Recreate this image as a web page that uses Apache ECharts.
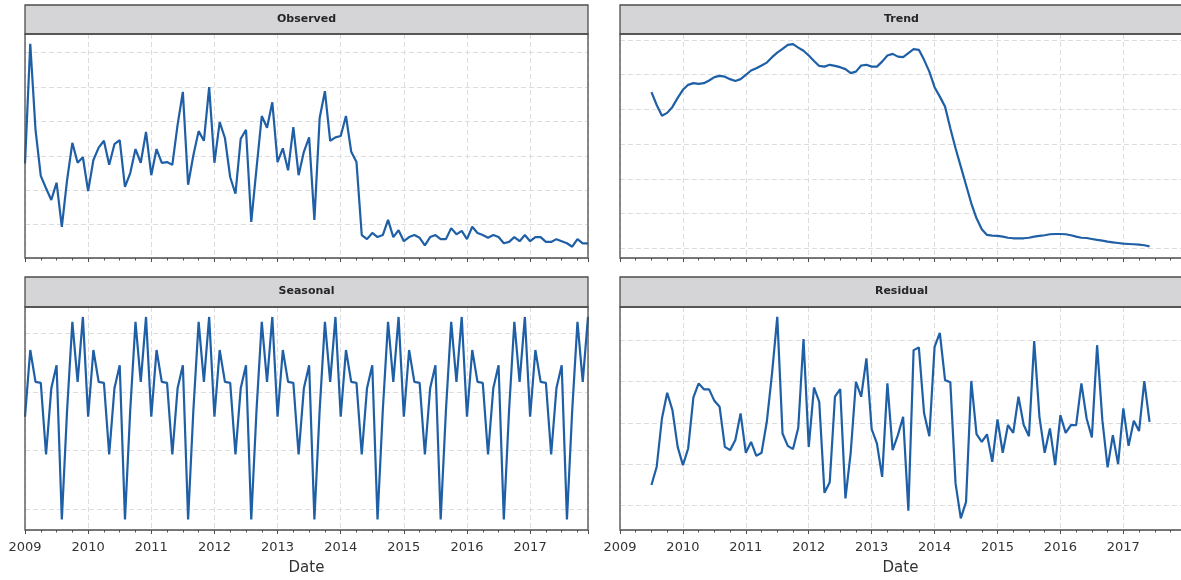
<!DOCTYPE html>
<html>
<head>
<meta charset="utf-8">
<script src="https://cdn.jsdelivr.net/npm/echarts@6/dist/echarts.min.js"></script>
<style>
html,body{margin:0;padding:0;background:#ffffff;}
#chart{width:1181px;height:580px;}
</style>
</head>
<body>
<div id="chart"></div>
<script>
// ---------------- data ----------------
const panelTitles = ['Observed', 'Trend', 'Seasonal', 'Residual'];
const xAxisName = 'Date';
const yearLabels = [2009, 2010, 2011, 2012, 2013, 2014, 2015, 2016, 2017];

// monthly, 2009-01 .. 2017-12
const observed = [
  139, 313, 188, 121, 103, 86, 111, 47, 115, 169, 140, 148,
  99, 144, 162, 172, 137, 167, 173, 105, 125, 160, 140, 185,
  122, 160, 140, 141, 137, 195, 243, 108, 151, 186, 172, 250,
  140, 199, 176, 119, 95, 175, 188, 54, 132, 208, 191, 228,
  141, 161, 129, 192, 122, 156, 177, 57, 205, 244, 172, 177,
  179, 208, 156, 141, 35, 29, 38, 32, 35, 57, 32, 42,
  26, 32, 35, 31, 20, 32, 35, 29, 29, 45, 36, 41,
  29, 47, 38, 35, 31, 35, 32, 23, 25, 32, 26, 35,
  26, 32, 32, 25, 25, 29, 26, 23, 18, 29, 23, 23
];

// monthly, 2009-07 .. 2017-06
const trend = [
  137.4, 128.2, 120.5, 122.5, 126.8, 133.3,
  139.1, 142.7, 143.9, 143.4, 143.9, 145.8, 148.2, 149.1, 148.6, 146.8, 145.5, 146.8,
  149.9, 153.0, 154.7, 156.6, 158.7, 162.6, 165.9, 168.6, 171.5, 172.0, 169.5, 167.2,
  163.8, 159.9, 156.3, 155.8, 157.1, 156.3, 155.4, 154.0, 151.1, 152.2, 156.6, 157.1,
  155.8, 155.8, 159.4, 163.8, 165.0, 163.0, 162.6, 165.5, 168.4, 167.9, 160.7, 152.2,
  141.0, 134.2, 127.0, 111.5, 97.0, 83.8, 70.6, 57.4, 46.6, 38.7, 34.6, 34.1,
  33.9, 33.4, 32.6, 32.2, 32.2, 32.2, 32.6, 33.4, 33.9, 34.4, 35.1, 35.3,
  35.3, 35.1, 34.4, 33.4, 32.6, 32.4, 31.7, 31.0, 30.5, 29.8, 29.3, 28.8,
  28.3, 28.1, 27.9, 27.6, 27.2, 26.4
];

// monthly, 2009-01 .. 2017-12
const seasonal = [
  0.915, 1.143, 1.034, 1.031, 0.786, 1.012, 1.091, 0.564, 0.937, 1.239, 1.034, 1.256,
  0.915, 1.143, 1.034, 1.031, 0.786, 1.012, 1.091, 0.564, 0.937, 1.239, 1.034, 1.256,
  0.915, 1.143, 1.034, 1.031, 0.786, 1.012, 1.091, 0.564, 0.937, 1.239, 1.034, 1.256,
  0.915, 1.143, 1.034, 1.031, 0.786, 1.012, 1.091, 0.564, 0.937, 1.239, 1.034, 1.256,
  0.915, 1.143, 1.034, 1.031, 0.786, 1.012, 1.091, 0.564, 0.937, 1.239, 1.034, 1.256,
  0.915, 1.143, 1.034, 1.031, 0.786, 1.012, 1.091, 0.564, 0.937, 1.239, 1.034, 1.256,
  0.915, 1.143, 1.034, 1.031, 0.786, 1.012, 1.091, 0.564, 0.937, 1.239, 1.034, 1.256,
  0.915, 1.143, 1.034, 1.031, 0.786, 1.012, 1.091, 0.564, 0.937, 1.239, 1.034, 1.256,
  0.915, 1.143, 1.034, 1.031, 0.786, 1.012, 1.091, 0.564, 0.937, 1.239, 1.034, 1.256
];

// monthly, 2009-07 .. 2017-06
const residual = [
  0.697, 0.786, 1.021, 1.146, 1.062, 0.883,
  0.794, 0.875, 1.124, 1.192, 1.163, 1.163, 1.107, 1.078, 0.883, 0.867, 0.916, 1.046,
  0.854, 0.907, 0.839, 0.854, 1.005, 1.241, 1.516, 0.948, 0.888, 0.872, 0.976, 1.408,
  0.883, 1.172, 1.102, 0.659, 0.710, 1.127, 1.164, 0.632, 0.854, 1.200, 1.127, 1.314,
  0.969, 0.900, 0.737, 1.192, 0.867, 0.940, 1.029, 0.572, 1.354, 1.367, 1.046, 0.935,
  1.370, 1.438, 1.208, 1.198, 0.705, 0.535, 0.615, 1.204, 0.945, 0.907, 0.944, 0.810,
  1.017, 0.854, 0.989, 0.951, 1.127, 0.989, 0.935, 1.398, 1.029, 0.854, 0.973, 0.794,
  1.037, 0.951, 0.989, 0.989, 1.192, 1.021, 0.929, 1.378, 1.013, 0.783, 0.940, 0.799,
  1.070, 0.888, 1.010, 0.960, 1.203, 1.005
];

// ---------------- helpers ----------------
function monthSeq(startY, startM, n) {
  const out = [];
  for (let i = 0; i < n; i++) {
    const t = startY * 12 + (startM - 1) + i;
    const y = Math.floor(t / 12), m = t % 12 + 1;
    out.push(y + '-' + (m < 10 ? '0' : '') + m);
  }
  return out;
}
function toYear(s) {
  const p = s.split('-');
  return Number(p[0]) + (Number(p[1]) - 1) / 12;
}
const datesFull = monthSeq(2009, 1, observed.length);
const datesComp = monthSeq(2009, 7, trend.length);
function pairs(dates, vals) { return dates.map((d, i) => [toYear(d), vals[i]]); }

const seriesData = [
  pairs(datesFull, observed),
  pairs(datesComp, trend),
  pairs(datesFull, seasonal),
  pairs(datesComp, residual)
];

// ---------------- layout & style ----------------
const layout = [
  {left: 25,  top: 34,  width: 563, height: 224, headTop: 5,   headH: 29},
  {left: 620, top: 34,  width: 563, height: 224, headTop: 5,   headH: 29},
  {left: 25,  top: 307, width: 563, height: 223, headTop: 277, headH: 30},
  {left: 620, top: 307, width: 563, height: 223, headTop: 277, headH: 30}
];
const yScale = [
  {min: 1.6,   max: 327.2, step: 50},
  {min: 18.0,  max: 179.3, step: 25},
  {min: 0.528, max: 1.29,  step: 0.2},
  {min: 0.478, max: 1.564, step: 0.2}
];
const lineColor = '#1f5fa6';
const frameColor = '#4d4d4d';
const gridColor = '#dddddd';
const font = '"DejaVu Sans", "Liberation Sans", sans-serif';
const xMin = toYear(datesFull[0]);
const xMax = toYear(datesFull[datesFull.length - 1]);

const grids = [], xAxes = [], yAxes = [], series = [], graphics = [];
layout.forEach((L, k) => {
  grids.push({left: L.left, top: L.top, width: L.width, height: L.height, containLabel: false});
  const bottomRow = k >= 2;
  xAxes.push({
    type: 'value', gridIndex: k, min: xMin, max: xMax, interval: 1,
    axisLine: {show: false},
    axisTick: {show: true, length: 4, lineStyle: {color: frameColor, width: 1}},
    minorTick: {show: true, splitNumber: 4, length: 2.5, lineStyle: {color: frameColor, width: 1}},
    minorSplitLine: {show: false},
    axisLabel: {
      show: bottomRow, margin: 11, color: '#333333', fontSize: 13, fontFamily: font,
      showMaxLabel: false,
      formatter: v => (yearLabels.indexOf(Math.round(v * 1000) / 1000) >= 0 ? String(Math.round(v)) : '')
    },
    splitLine: {show: true, lineStyle: {color: gridColor, type: [5, 3], width: 1}},
    name: bottomRow ? xAxisName : '', nameLocation: 'middle', nameGap: 31,
    nameTextStyle: {color: '#333333', fontSize: 15, fontFamily: font}
  });
  const ys = yScale[k];
  yAxes.push({
    type: 'value', gridIndex: k, min: ys.min, max: ys.max,
    minInterval: ys.step, maxInterval: ys.step,
    axisLine: {show: false}, axisTick: {show: false}, axisLabel: {show: false},
    splitLine: {show: true, lineStyle: {color: gridColor, type: [5, 3], width: 1}}
  });
  series.push({
    type: 'line', xAxisIndex: k, yAxisIndex: k, data: seriesData[k],
    showSymbol: false, symbol: 'none', clip: true,
    lineStyle: {color: lineColor, width: 2.2}, z: 3
  });
  // header strip
  graphics.push({
    type: 'rect', silent: true, z: 50,
    shape: {x: L.left, y: L.headTop, width: L.width, height: L.headH},
    style: {fill: '#d5d5d8', stroke: frameColor, lineWidth: 1.3}
  });
  graphics.push({
    type: 'text', silent: true, z: 51,
    x: L.left + L.width / 2, y: L.headTop + L.headH / 2 - 0.5,
    style: {text: panelTitles[k], fill: '#262626', font: 'bold 11px ' + font,
            align: 'center', verticalAlign: 'middle'}
  });
  // plot frame
  graphics.push({
    type: 'rect', silent: true, z: 50,
    shape: {x: L.left, y: L.top, width: L.width, height: L.height},
    style: {fill: 'none', stroke: frameColor, lineWidth: 1.3}
  });
});

const chart = echarts.init(document.getElementById('chart'), null, {renderer: 'canvas'});
chart.setOption({
  animation: false,
  backgroundColor: '#ffffff',
  grid: grids,
  xAxis: xAxes,
  yAxis: yAxes,
  series: series,
  graphic: graphics
});
</script>
</body>
</html>
